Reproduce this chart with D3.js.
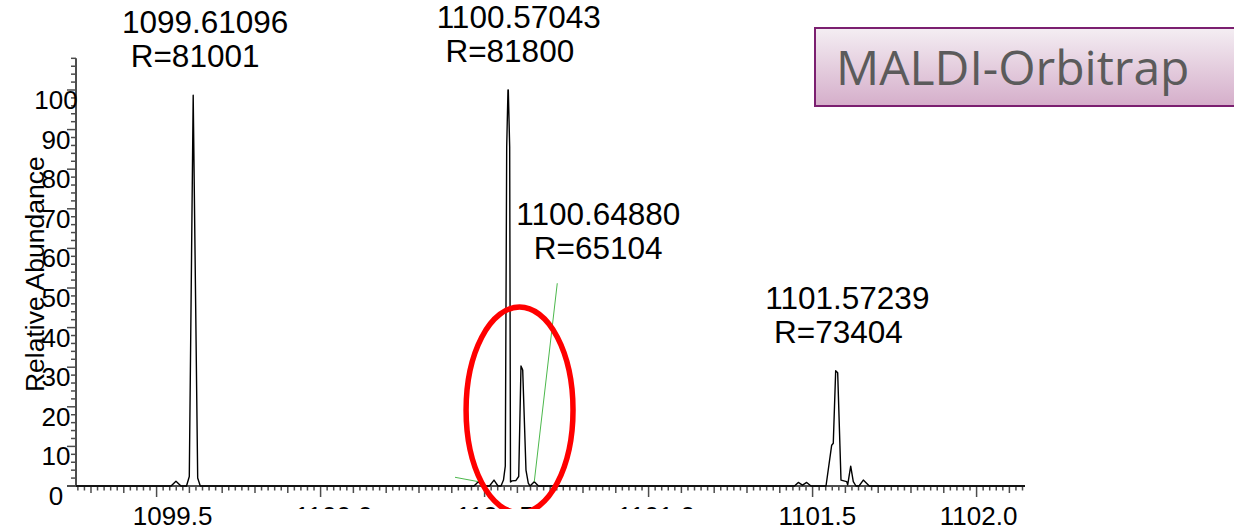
<!DOCTYPE html>
<html>
<head>
<meta charset="utf-8">
<script src="https://cdn.jsdelivr.net/npm/d3@7"></script>
<style>
  html, body { margin: 0; padding: 0; background: #fff; }
  svg { display: block; }
  text { white-space: pre; }
</style>
</head>
<body>
<svg id="chart" width="1234" height="531"></svg>
<script>
// Profile spectrum around the isotope cluster: m/z and relative abundance (%)
const profileMz = [
  1099.2543, 1099.5439, 1099.5591, 1099.5744, 1099.5912, 1099.5997, 1099.6116, 1099.6253, 1099.6332,
  1100.4677, 1100.4808, 1100.4936, 1100.5149, 1100.5287, 1100.5409,
  1100.5500, 1100.5576, 1100.5631, 1100.5674, 1100.5713, 1100.5723, 1100.5765, 1100.5790,
  1100.5835, 1100.5957, 1100.6040, 1100.6110, 1100.6162, 1100.6262, 1100.6332, 1100.6384,
  1100.6515, 1100.6643,
  1101.4448, 1101.4564, 1101.4692, 1101.4820, 1101.4951,
  1101.5409, 1101.5582, 1101.5631, 1101.5704, 1101.5765, 1101.5866, 1101.6040, 1101.6070,
  1101.6162, 1101.6241, 1101.6323, 1101.6415, 1101.6546, 1101.6729, 1102.1476
];
const profileAbundance = [
  0, 0, 1.2, 0, 0, 2.4, 98.7, 2.0, 0,
  0, 1.1, 0, 0, 1.5, 0,
  0, 1.5, 5, 85.6, 100, 100, 85.6, 1.0,
  1.3, 1.4, 2.4, 30.3, 29.3, 4.0, 0.7, 0,
  1.1, 0,
  0, 0.9, 0.2, 0.9, 0,
  0, 10.3, 10.8, 29.1, 28.6, 1.5, 1.1, 0.3,
  5.0, 1.1, 0, 0, 1.5, 0, 0
];

// Labelled centroids: m/z, resolution, abundance at the apex
const peakMz = [1099.61096, 1100.57043, 1100.64880, 1101.57239];
const peakResolution = [81001, 81800, 65104, 73404];
const peakAbundance = [98.7, 100, 1.1, 29.1];
// index into the leader arrays, -1 when the label sits straight above the peak
const peakLeader = [-1, -1, 0, -1];

// Leader lines (green): start and end in data units
const leaderFromMz = [1100.6515, 1100.4808];
const leaderFromAb = [1.1, 1.1];
const leaderToMz = [1100.7216, 1100.4098];
const leaderToAb = [51.2, 2.2];

// Axis labels
const yTickLabels = [0, 10, 20, 30, 40, 50, 60, 70, 80, 90, 100];
const xTickLabels = ["1099.5", "1100.0", "1100.5", "1101.0", "1101.5", "1102.0"];
const yTitle = "Relative Abundance";

// Highlighted region (red ring): centre and half-extents in data units
const ringMz = [1100.6066];
const ringAb = [19.2];
const ringHalfMz = [0.163];
const ringHalfAb = [26];

const instrument = "MALDI-Orbitrap";

// ---- scales ----
const svg = d3.select("#chart");
const x = d3.scaleLinear().domain([1099.2543, 1102.1476]).range([76, 1025]);
const y = d3.scaleLinear().domain([0, 108]).range([486, 58.32]);
// tick text sits a little off the tick marks
const xLabel = d3.scaleLinear().domain([1099.5, 1102.0]).range([x(1099.5) + 16, x(1102.0) + 2]);

const axisColor = "#4d4d4d";
const font = "'Liberation Sans', Arial, sans-serif";

// ---- y axis ----
const gy = svg.append("g");
const yMinor = d3.range(0, 109, 2);
gy.selectAll("line.tick").data(yMinor).join("line")
  .attr("x1", d => d % 10 === 0 ? 67 : 71).attr("x2", 76)
  .attr("y1", d => y(d)).attr("y2", d => y(d))
  .attr("stroke", axisColor).attr("stroke-width", 1.5);
gy.append("line").attr("x1", 76).attr("x2", 76).attr("y1", y(108)).attr("y2", y(0))
  .attr("stroke", axisColor).attr("stroke-width", 2);
gy.selectAll("text").data(yTickLabels).join("text")
  .attr("x", 56).attr("y", d => y(d) + 19)
  .attr("text-anchor", "middle")
  .attr("font-family", font).attr("font-size", 26).attr("fill", "#000")
  .text(d => d);
svg.append("text")
  .attr("transform", `translate(44, ${(y(0) + y(108)) / 2 + 2}) rotate(-90)`)
  .attr("text-anchor", "middle")
  .attr("font-family", font).attr("font-size", 26.5).attr("fill", "#000")
  .text(yTitle);

// ---- x axis ----
const gx = svg.append("g");
const [d0, d1] = x.domain();
const xIdx = d3.range(Math.ceil(d0 / 0.02), Math.floor(d1 / 0.02) + 1);
gx.selectAll("line.tick").data(xIdx).join("line")
  .attr("x1", i => x(i * 0.02)).attr("x2", i => x(i * 0.02))
  .attr("y1", y(0))
  .attr("y2", i => y(0) + (i % 25 === 0 ? 11 : i % 5 === 0 ? 7 : 4.5))
  .attr("stroke", axisColor).attr("stroke-width", 1.5);
gx.append("line").attr("x1", 67).attr("x2", x(d1)).attr("y1", y(0)).attr("y2", y(0))
  .attr("stroke", axisColor).attr("stroke-width", 2);
gx.selectAll("text").data(xTickLabels).join("text")
  .attr("x", d => xLabel(+d)).attr("y", 525)
  .attr("text-anchor", "middle")
  .attr("font-family", font).attr("font-size", 26).attr("fill", "#000")
  .text(d => d);

// ---- spectrum ----
const line = d3.line().x(d => x(d[0])).y(d => y(d[1]));
svg.append("path")
  .attr("d", line(profileMz.map((m, i) => [m, profileAbundance[i]])))
  .attr("fill", "none").attr("stroke", "#000").attr("stroke-width", 1.4)
  .attr("stroke-linejoin", "round");

// ---- leader lines ----
svg.selectAll("line.leader").data(leaderFromMz).join("line")
  .attr("x1", (d, i) => x(d)).attr("y1", (d, i) => y(leaderFromAb[i]))
  .attr("x2", (d, i) => x(leaderToMz[i])).attr("y2", (d, i) => y(leaderToAb[i]))
  .attr("stroke", "#4cb84c").attr("stroke-width", 1);

// ---- peak annotations ----
const ann = svg.append("g").attr("font-family", font).attr("font-size", 31.5).attr("fill", "#000");
peakMz.forEach((m, i) => {
  const li = peakLeader[i];
  let left, base;
  if (li < 0) {
    left = x(m) - 71;
    base = y(peakAbundance[i]) - 62;
  } else {
    left = x(leaderToMz[li]) - 41;
    base = y(leaderToAb[li]) - 58;
  }
  const indent = li < 0 ? " " : "  ";
  ann.append("text").attr("x", left).attr("y", base).attr("xml:space", "preserve").text(m.toFixed(5));
  ann.append("text").attr("x", left).attr("y", base + 34).attr("xml:space", "preserve")
    .text(indent + "R=" + peakResolution[i]);
});

// ---- highlighted region ----
svg.selectAll("ellipse.ring").data(ringMz).join("ellipse")
  .attr("cx", d => x(d)).attr("cy", (d, i) => y(ringAb[i]))
  .attr("rx", (d, i) => x(d + ringHalfMz[i]) - x(d))
  .attr("ry", (d, i) => y(0) - y(ringHalfAb[i]))
  .attr("fill", "none").attr("stroke", "#ff0000").attr("stroke-width", 5.5);

// blank band under the middle of the axis
svg.append("rect").attr("x", 255).attr("y", 509).attr("width", 495).attr("height", 22).attr("fill", "#fff");

// ---- instrument box ----
const defs = svg.append("defs");
const grad = defs.append("linearGradient").attr("id", "boxFill").attr("x1", 0).attr("y1", 0).attr("x2", 0).attr("y2", 1);
grad.append("stop").attr("offset", 0).attr("stop-color", "#f4eef3");
grad.append("stop").attr("offset", 1).attr("stop-color", "#d5aeca");
svg.append("rect").attr("x", 815).attr("y", 28).attr("width", 440).attr("height", 78)
  .attr("fill", "url(#boxFill)").attr("stroke", "#7b1f70").attr("stroke-width", 2);
svg.append("text").attr("x", 836).attr("y", 85)
  .attr("font-family", "'Open Sans', 'Noto Sans', sans-serif").attr("font-size", 48)
  .attr("fill", "#5b5b5b").text(instrument);
</script>
</body>
</html>
